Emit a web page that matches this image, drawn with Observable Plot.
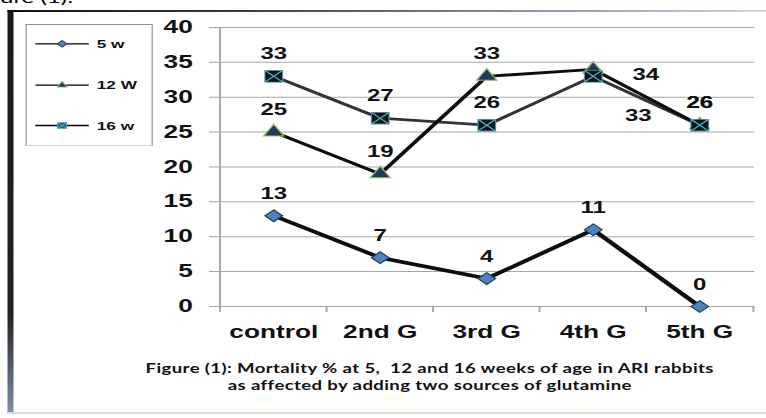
<!DOCTYPE html>
<html><head><meta charset="utf-8">
<script src="https://cdn.jsdelivr.net/npm/d3@7"></script>
<script src="https://cdn.jsdelivr.net/npm/@observablehq/plot@0.6"></script>
<style>
html,body{margin:0;padding:0;background:#fff;overflow:hidden;width:766px;height:418px}
#wrap{position:relative;width:510.667px;height:418px;transform:scaleX(1.5);transform-origin:0 0;font-family:"Liberation Sans",Arial,sans-serif;color:#000}
#toptext{position:absolute;left:0;top:-11px;font-family:Lato,"Open Sans",sans-serif;font-size:16px;line-height:16px;white-space:pre;color:#000}
#frameL{position:absolute;left:5.3px;top:10px;width:3.4px;height:404px;background:linear-gradient(to bottom,#1a1a1a 0%,#222 75%,#7f90a8 100%)}
#frameT{position:absolute;left:5.3px;top:10px;width:506px;height:2.4px;background:linear-gradient(to right,#111 0%,#3a3a3a 30%,#8a97a8 70%,#c9d6ea 100%)}
#frameB{position:absolute;left:5.3px;top:411.5px;width:506px;height:2px;background:#d3dded}
#chart{position:absolute;left:0;top:0}
#legend{position:absolute;left:17.3px;top:24px;width:84.5px;height:122px;box-sizing:border-box;border:1.5px solid #8e8e8e;border-bottom-color:#c4d3ea;border-left-color:#a2abb8;border-right-color:#a2abb8;background:#fff}
#caption{position:absolute;left:46.5px;top:360px;width:480px;text-align:center;font-family:Lato,"Open Sans",sans-serif;font-weight:700;font-size:12.4px;letter-spacing:0.25px;line-height:17px;white-space:pre;color:#111}
</style></head><body>
<div id="wrap">
  <div id="toptext">ure (1):</div>
  <div id="chart"></div>
  <div id="frameL"></div>
  <div id="frameT"></div>
  <div id="frameB"></div>
  <div id="legend"></div>
  <div id="caption"></div>
</div>
<script>
// ---- data ----
const categories = ["control", "2nd G", "3rd G", "4th G", "5th G"];
const seriesNames = ["5 w", "12 W", "16 w"];
const values5w  = [13, 7, 4, 11, 0];
const values12w = [25, 19, 33, 34, 26];
const values16w = [33, 27, 26, 33, 26];
const yTicks = [0, 5, 10, 15, 20, 25, 30, 35, 40];
const captionLines = [
  "Figure (1): Mortality % at 5,  12 and 16 weeks of age in ARI rabbits",
  "as affected by adding two sources of glutamine"
];

const seriesValues = [values5w, values12w, values16w];
const rows = [];
seriesNames.forEach((s, si) => categories.forEach((c, ci) =>
  rows.push({series: s, cat: c, value: seriesValues[si][ci]})));
const bySeries = s => rows.filter(d => d.series === s);

// ---- layout (design units; container is stretched 1.5x horizontally) ----
const S = 1.5;
const W = 766 / S, H = 418;
const mL = 217 / S, mR = (766 - 754) / S, mT = 27, mB = H - 306;
const step = (W - mL - mR) / categories.length;
const font = "'Liberation Sans', Arial, sans-serif";
const gridColor = "#a6a6a6";

const isSpecial = d => d.cat === categories[3] && (d.series === seriesNames[1] || d.series === seriesNames[2]);

const chart = Plot.plot({
  width: W, height: H,
  marginLeft: mL, marginRight: mR, marginTop: mT, marginBottom: mB,
  style: {fontFamily: font, background: "transparent", overflow: "visible", color: "#000"},
  x: {type: "point", domain: categories, padding: 0.5},
  y: {domain: [0, 40]},
  marks: [
    Plot.ruleY(yTicks, {stroke: gridColor, strokeWidth: 1, insetLeft: -8 / S}),
    Plot.ruleX([categories[0]], {dx: -step / 2, y1: 0, y2: 40, stroke: gridColor, strokeWidth: 1.3}),
    Plot.ruleX(categories, {dx: -step / 2, y1: 0, y2: 0, insetBottom: -6, stroke: gridColor, strokeWidth: 1.3}),
    Plot.ruleX([categories[categories.length - 1]], {dx: step / 2, y1: 0, y2: 0, insetBottom: -6, stroke: gridColor, strokeWidth: 1.3}),
    Plot.axisY({ticks: yTicks, tickSize: 0, tickPadding: mL - 128, fontSize: 17.5, fontWeight: "bold", label: null, fill: "#111"}),
    Plot.axisX({tickSize: 0, tickPadding: 19, fontSize: 17.5, fontWeight: "bold", label: null, fill: "#111"}),
    // 5 w
    Plot.line(bySeries("5 w"), {x: "cat", y: "value", stroke: "#0d0d0d", strokeWidth: 3.6}),
    Plot.dot(bySeries("5 w"), {x: "cat", y: "value", symbol: "diamond2", r: 5.3, fill: "#4f81bd", stroke: "#1f3a60", strokeWidth: 1}),
    // 16 w line
    Plot.line(bySeries("16 w"), {x: "cat", y: "value", stroke: "#333333", strokeWidth: 2.8}),
    // 12 W
    Plot.line(bySeries("12 W"), {x: "cat", y: "value", stroke: "#0d0d0d", strokeWidth: 2.9}),
    Plot.dot(bySeries("12 W"), {x: "cat", y: "value", symbol: "triangle", r: 5, fill: "#1f3b63", stroke: "#9bbb59", strokeWidth: 1}),
    // 16 w markers
    Plot.dot(bySeries("16 w"), {x: "cat", y: "value", symbol: "square", r: 6.6, fill: "#111", stroke: "#3f95aa", strokeWidth: 0.8}),
    Plot.dot(bySeries("16 w"), {x: "cat", y: "value", symbol: "times", r: 5.2, stroke: "#4bacc6", strokeWidth: 1.1}),
    // data labels
    Plot.text(rows.filter(d => !isSpecial(d)), {x: "cat", y: "value", text: d => String(d.value), dy: -22, fontSize: 16, fontWeight: "bold", fill: "#111"}),
    Plot.text(rows.filter(d => isSpecial(d) && d.series === seriesNames[1]), {x: "cat", y: "value", text: d => String(d.value), dx: 35, dy: 6, fontSize: 16, fontWeight: "bold", fill: "#111"}),
    Plot.text(rows.filter(d => isSpecial(d) && d.series === seriesNames[2]), {x: "cat", y: "value", text: d => String(d.value), dx: 30, dy: 40, fontSize: 16, fontWeight: "bold", fill: "#111"})
  ]
});
document.getElementById("chart").appendChild(chart);

// ---- legend ----
const lg = d3.select("#legend").append("svg")
  .attr("width", 81.5).attr("height", 119)
  .style("position", "absolute").style("left", "0").style("top", "0");
const legendY = [18.8, 60.2, 100.5];
const legendSym = [
  [{type: d3.symbolDiamond2, size: 28, fill: "#4f81bd", stroke: "#1f3a60"}],
  [{type: d3.symbolTriangle, size: 19, fill: "#1f3b63", stroke: "#9bbb59"}],
  [{type: d3.symbolSquare, size: 34, fill: "#1f5f70", stroke: "#4bacc6"}, {type: d3.symbolTimes, size: 22, fill: "none", stroke: "#4bacc6"}]
];
seriesNames.forEach((s, i) => {
  const g = lg.append("g").attr("transform", `translate(0,${legendY[i]})`);
  g.append("line").attr("x1", 5.6).attr("x2", 41.2).attr("y1", 0).attr("y2", 0)
    .attr("stroke", "#000").attr("stroke-width", 1.3);
  legendSym[i].forEach(sy => {
    g.append("path").attr("transform", "translate(23.4,0)")
      .attr("d", d3.symbol().type(sy.type).size(sy.size)())
      .attr("fill", sy.fill).attr("stroke", sy.stroke).attr("stroke-width", 0.8);
  });
  g.append("text").attr("x", 46.5).attr("y", 0).attr("dy", "0.36em")
    .attr("font-family", font).attr("font-weight", "bold").attr("font-size", 11.5)
    .attr("fill", "#111").text(s);
});

// ---- caption ----
document.getElementById("caption").textContent = captionLines.join("\n");
</script>
</body></html>
